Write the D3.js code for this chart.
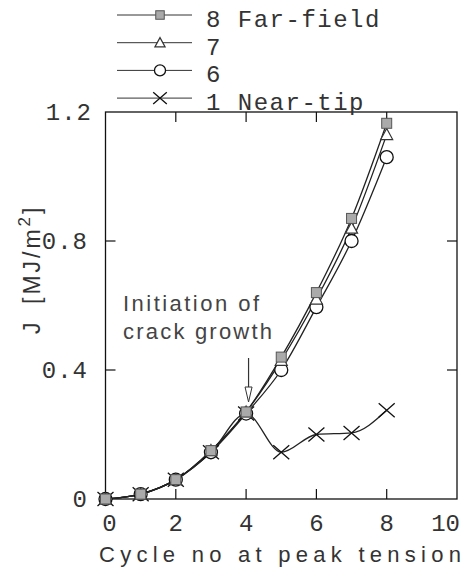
<!DOCTYPE html>
<html>
<head>
<meta charset="utf-8">
<script src="https://cdn.jsdelivr.net/npm/d3@7"></script>
<style>
  body { margin: 0; background: #fff; }
  svg { display: block; }
</style>
</head>
<body>
<div id="chart"></div>
<script>
// data
const cycles = [0, 1, 2, 3, 4, 5, 6, 7, 8];
const j8 = [0, 0.015, 0.06, 0.15, 0.27, 0.44, 0.64, 0.87, 1.165];
const j7 = [0, 0.015, 0.06, 0.15, 0.27, 0.43, 0.62, 0.84, 1.13];
const j6 = [0, 0.015, 0.06, 0.145, 0.265, 0.40, 0.595, 0.80, 1.06];
const j1 = [0, 0.015, 0.06, 0.145, 0.265, 0.145, 0.20, 0.205, 0.275];
const xTicks = [0, 2, 4, 6, 8, 10];
const yTicks = [0, 0.4, 0.8, 1.2];
const legendLabels = ["8 Far-field", "7", "6", "1 Near-tip"];

const width = 472, height = 573;
const margin = { left: 105.5, right: 15, top: 112, bottom: 74 };

const svg = d3.select("#chart").append("svg")
    .attr("width", width)
    .attr("height", height);

const x = d3.scaleLinear().domain([0, 10]).range([margin.left, width - margin.right]);
const y = d3.scaleLinear().domain([0, 1.2]).range([height - margin.bottom, margin.top]);

const mono = "'Liberation Mono', 'Courier New', monospace";
const sans = "'Liberation Sans', Arial, sans-serif";

// frame
svg.append("rect")
    .attr("x", x(0)).attr("y", y(1.2))
    .attr("width", x(10) - x(0)).attr("height", y(0) - y(1.2))
    .attr("fill", "none").attr("stroke", "#111").attr("stroke-width", 1.3);

// inward ticks on all sides
const tickLen = 10;
const g = svg.append("g").attr("stroke", "#111").attr("stroke-width", 1.2);
xTicks.slice(1, -1).forEach(t => {
    g.append("line").attr("x1", x(t)).attr("x2", x(t)).attr("y1", y(0)).attr("y2", y(0) - tickLen);
    g.append("line").attr("x1", x(t)).attr("x2", x(t)).attr("y1", y(1.2)).attr("y2", y(1.2) + tickLen);
});
yTicks.slice(1, -1).forEach(t => {
    g.append("line").attr("x1", x(0)).attr("x2", x(0) + tickLen).attr("y1", y(t)).attr("y2", y(t));
    g.append("line").attr("x1", x(10)).attr("x2", x(10) - tickLen).attr("y1", y(t)).attr("y2", y(t));
});

// tick labels
svg.append("g").selectAll("text")
    .data(xTicks).join("text")
    .attr("x", d => d === 10 ? x(d) + 3 : x(d) + (d === 0 ? 4 : 0))
    .attr("y", y(0) + 32)
    .attr("text-anchor", d => d === 10 ? "end" : "middle")
    .attr("font-family", mono).attr("font-size", 24).attr("fill", "#333")
    .text(d => d);

svg.append("g").selectAll("text")
    .data(yTicks).join("text")
    .attr("x", d => d === 1.2 ? 92 : 88)
    .attr("y", d => y(d) + 8)
    .attr("text-anchor", "end")
    .attr("font-family", mono).attr("font-size", 24).attr("fill", "#333")
    .attr("letter-spacing", 1)
    .text(d => d === 0 ? "0" : d3.format(".1f")(d));

// axis titles
svg.append("text")
    .attr("x", 280).attr("y", 562)
    .attr("text-anchor", "middle")
    .attr("font-family", sans).attr("font-size", 22).attr("fill", "#333")
    .attr("textLength", 362).attr("lengthAdjust", "spacing")
    .text("Cycle no at peak tension");

// y title: "J" and the unit as two pieces, rotated
svg.append("text")
    .attr("transform", "translate(40, 334) rotate(-90)")
    .attr("font-family", sans).attr("font-size", 23).attr("fill", "#333")
    .text("J");
const yt = svg.append("text")
    .attr("transform", "translate(40, 304) rotate(-90)")
    .attr("font-family", sans).attr("font-size", 23).attr("fill", "#333")
    .attr("letter-spacing", 3);
yt.append("tspan").text("[MJ/m");
yt.append("tspan").attr("dy", -10).attr("font-size", 17).text("2");
yt.append("tspan").attr("dy", 10).text("]");

// annotation
const ann = svg.append("text")
    .attr("font-family", sans).attr("font-size", 22).attr("fill", "#444");
ann.append("tspan").attr("x", 123).attr("y", 311)
    .attr("textLength", 136).attr("lengthAdjust", "spacing").text("Initiation of");
ann.append("tspan").attr("x", 123).attr("y", 339)
    .attr("textLength", 149).attr("lengthAdjust", "spacing").text("crack growth");

const ax = x(4.07);
svg.append("line")
    .attr("x1", ax).attr("x2", ax)
    .attr("y1", 358).attr("y2", 390)
    .attr("stroke", "#333").attr("stroke-width", 1.2);
svg.append("path")
    .attr("d", `M${ax - 3.5},387 L${ax},402 L${ax + 3.5},387 Z`)
    .attr("fill", "#fff").attr("stroke", "#333").attr("stroke-width", 1);

// series
const line = d3.line()
    .x((d, i) => x(cycles[i]))
    .y(d => y(d))
    .curve(d3.curveMonotoneX);

const series = [
    { values: j8, marker: "square" },
    { values: j7, marker: "triangle" },
    { values: j6, marker: "circle" },
    { values: j1, marker: "cross" }
];

function drawMarker(sel, type, cx, cy, s = 1) {
    if (type === "square") {
        sel.append("rect").attr("x", cx - 5 * s).attr("y", cy - 5 * s).attr("width", 10 * s).attr("height", 10 * s)
            .attr("fill", "#aaa").attr("stroke", "#555").attr("stroke-width", 1);
    } else if (type === "triangle") {
        sel.append("path").attr("d", `M${cx},${cy - 6 * s} L${cx + 6 * s},${cy + 5 * s} L${cx - 6 * s},${cy + 5 * s} Z`)
            .attr("fill", "#fff").attr("stroke", "#333").attr("stroke-width", 1.2);
    } else if (type === "circle") {
        sel.append("circle").attr("cx", cx).attr("cy", cy).attr("r", 6.5 * s)
            .attr("fill", "#fff").attr("stroke", "#111").attr("stroke-width", 1.3);
    } else {
        sel.append("path").attr("d", `M${cx - 8 * s},${cy - 7 * s} L${cx + 8 * s},${cy + 7 * s} M${cx - 8 * s},${cy + 7 * s} L${cx + 8 * s},${cy - 7 * s}`)
            .attr("fill", "none").attr("stroke", "#111").attr("stroke-width", 1.3);
    }
}

series.forEach(s => {
    svg.append("path")
        .datum(s.values)
        .attr("d", line)
        .attr("fill", "none")
        .attr("stroke", "#222")
        .attr("stroke-width", 1.3);
});

// markers drawn after lines
series.slice().reverse().forEach(s => {
    const mg = svg.append("g");
    s.values.forEach((v, i) => drawMarker(mg, s.marker, x(cycles[i]), y(v)));
});

// legend
const legend = svg.append("g");
legendLabels.forEach((lab, i) => {
    const ly = 15 + i * 27.7;
    legend.append("line")
        .attr("x1", 117).attr("x2", 192).attr("y1", ly).attr("y2", ly)
        .attr("stroke", "#333").attr("stroke-width", 1);
    drawMarker(legend, series[i].marker, 160, ly, 0.85);
    legend.append("text")
        .attr("x", 206).attr("y", ly + 12)
        .attr("font-family", mono).attr("font-size", 24).attr("fill", "#333")
        .attr("letter-spacing", 1.5)
        .text(lab);
});
</script>
</body>
</html>
